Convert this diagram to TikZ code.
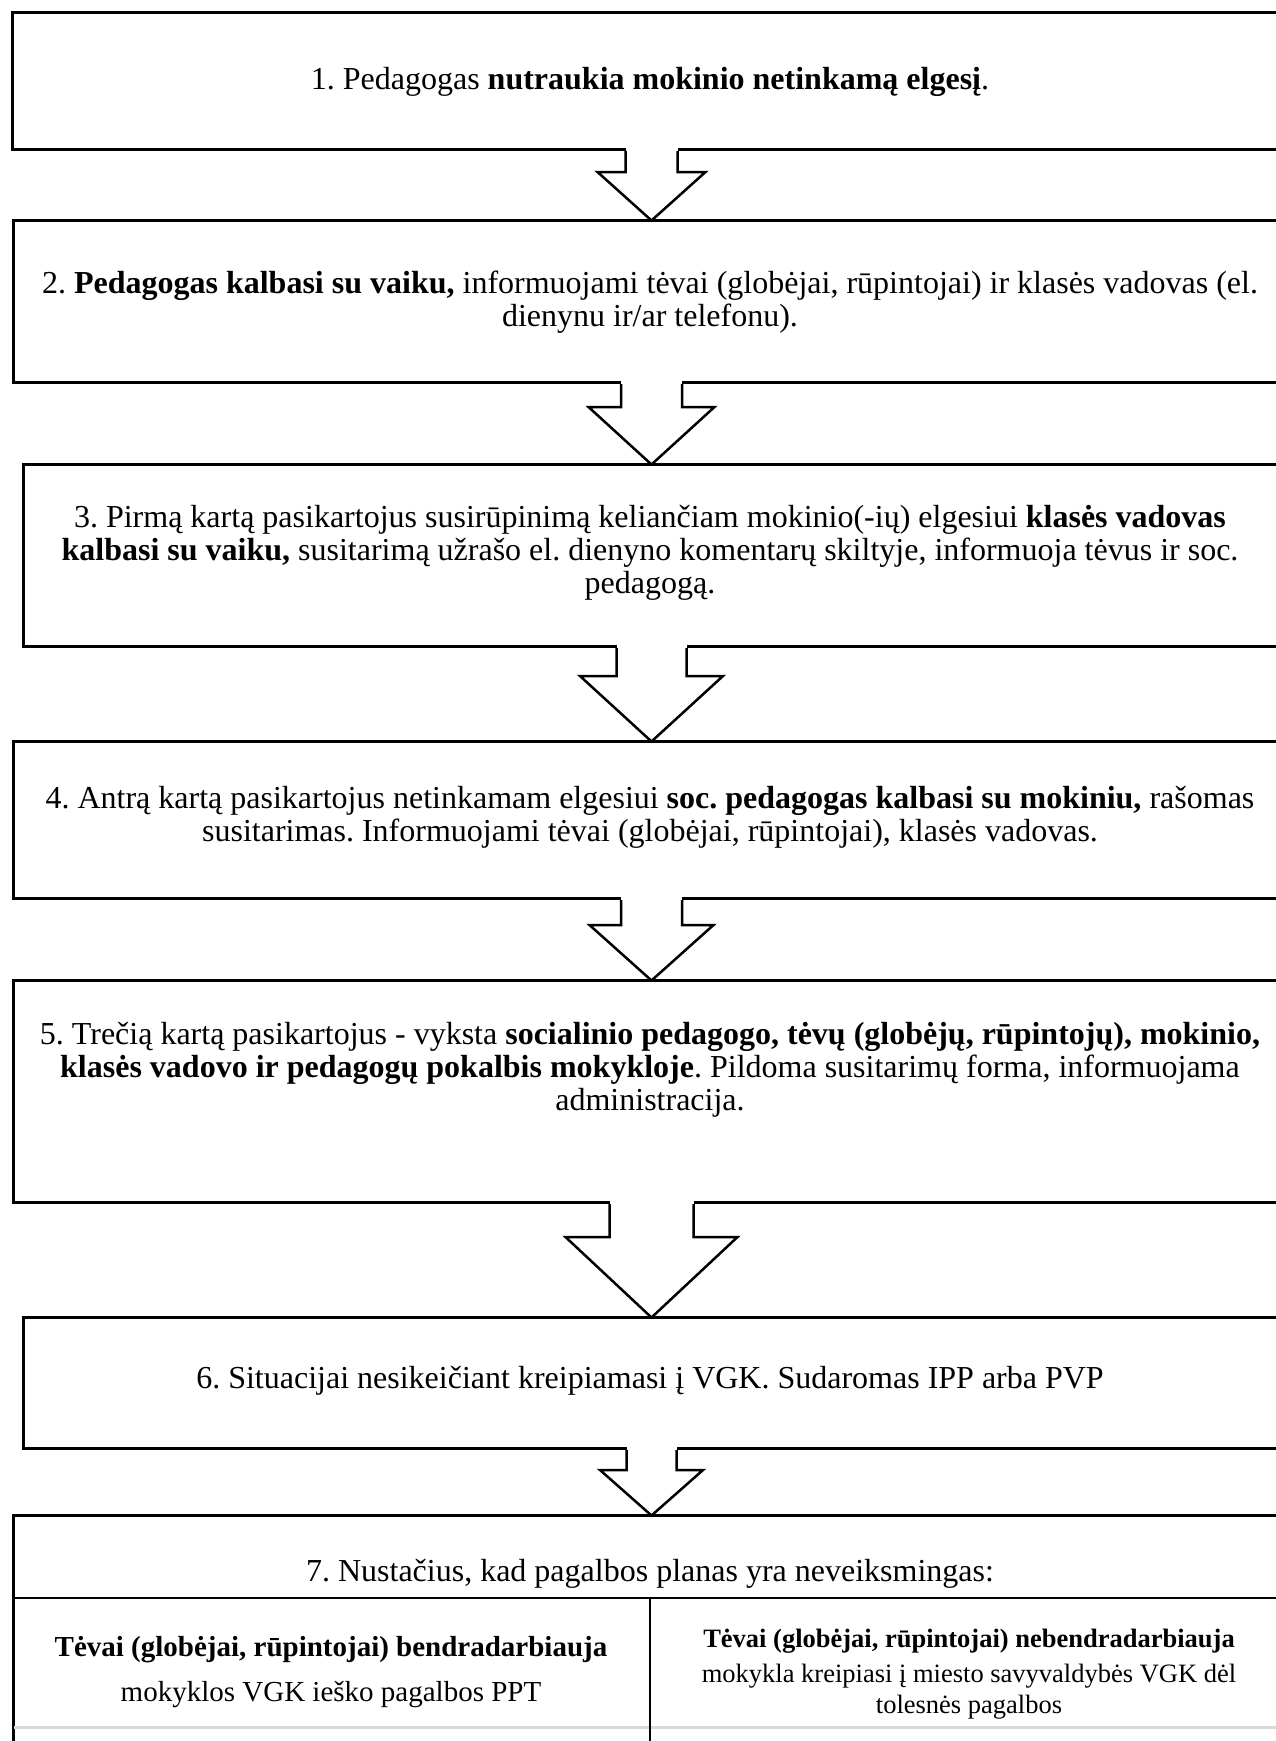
\documentclass[tikz,border=0pt]{standalone}
\usepackage{fontspec}
\setmainfont{Liberation Serif}
\usetikzlibrary{calc}
\frenchspacing
\newcommand\blockarrow[5]{% from, to, half shaft, half head, shaft length
  \fill[white] ($(#1.south)+(-#3,-3)$) rectangle ($(#1.south)+(#3,#5)$);
  \draw[arrowst] ($(#1.south)+(-#3,0)$) -- ($(#1.south)+(-#3,#5)$) -- ($(#1.south)+(-#4,#5)$)
     -- ($(#2.north)+(0,1.5)$) -- ($(#1.south)+(#4,#5)$) -- ($(#1.south)+(#3,#5)$) -- ($(#1.south)+(#3,0)$);
}
\begin{document}
\frenchspacing
\begin{tikzpicture}[x=1pt,y=-1pt,
  boxst/.style={draw=black, line width=3pt, inner sep=0pt, anchor=north west},
  txt/.style={align=center, inner sep=0pt, font=\fontsize{32}{33}\selectfont\frenchspacing},
  celltxt/.style={align=center, inner sep=0pt},
  arrowst/.style={draw=black, line width=2.5pt, line join=miter, miter limit=4},
  divline/.style={draw=black, line width=2pt},
  thinline/.style={draw=black, line width=1.6pt},
  greyline/.style={draw=black!15, line width=3pt},
]
\useasboundingbox (0,0) rectangle (1276,1741);
\fill[white] (0,0) rectangle (1276,1741);
\clip (0,0) rectangle (1276,1741);

% boxes
\node[boxst, minimum width=1278pt, minimum height=137pt] (b1) at (11,11) {};
\node[boxst, minimum width=1276pt, minimum height=162pt] (b2) at (12,219) {};
\node[boxst, minimum width=1256pt, minimum height=182pt] (b3) at (22,463) {};
\node[boxst, minimum width=1276pt, minimum height=157pt] (b4) at (12,740) {};
\node[boxst, minimum width=1276pt, minimum height=222pt] (b5) at (12,979) {};
\node[boxst, minimum width=1256pt, minimum height=131pt] (b6) at (22,1316) {};
\node[boxst, minimum width=1276pt, minimum height=300pt] (b7) at (12,1514) {};

% texts
\node[txt] (t1) at (650,82) {1. Pedagogas \textbf{nutraukia mokinio netinkamą elgesį}.};
\node[txt] (t2) at (650,302) {2. \textbf{Pedagogas kalbasi su vaiku,} informuojami tėvai (globėjai, rūpintojai) ir klasės vadovas (el.\\ dienynu ir/ar telefonu).};
\node[txt] (t3) at (650,553) {3. Pirmą kartą pasikartojus susirūpinimą keliančiam mokinio(-ių) elgesiui \textbf{klasės vadovas}\\ \textbf{kalbasi su vaiku,} susitarimą užrašo el. dienyno komentarų skiltyje, informuoja tėvus ir soc.\\ pedagogą.};
\node[txt] (t4) at (650,817) {4. Antrą kartą pasikartojus netinkamam elgesiui \textbf{soc. pedagogas kalbasi su mokiniu,} rašomas\\ susitarimas. Informuojami tėvai (globėjai, rūpintojai), klasės vadovas.};
\node[txt] (t5) at (650,1070) {5. Trečią kartą pasikartojus - vyksta \textbf{socialinio pedagogo, tėvų (globėjų, rūpintojų), mokinio,}\\ \textbf{klasės vadovo ir pedagogų pokalbis mokykloje}. Pildoma susitarimų forma, informuojama\\ administracija.};
\node[txt] (t6) at (650,1381) {6. Situacijai nesikeičiant kreipiamasi į VGK. Sudaromas IPP arba PVP};
\node[txt] (t7) at (650,1574) {7. Nustačius, kad pagalbos planas yra neveiksmingas:};

% table inside box 7
\coordinate (d1) at (12,1598);
\coordinate (d2) at (1290,1598);
\coordinate (v1) at (650,1598);
\coordinate (v2) at (650,1760);
\coordinate (g1) at (13.5,1727);
\coordinate (g2) at (1290,1727);
\draw[greyline] (g1) -- (g2);
\draw[divline] (d1) -- (d2);
\draw[thinline] (v1) -- (v2);

\node[celltxt, font=\fontsize{29}{33}\selectfont] (c1) at (331,1672)
  {\textbf{Tėvai (globėjai, rūpintojai) bendradarbiauja}\\[12pt] mokyklos VGK ieško pagalbos PPT};
\node[celltxt, font=\fontsize{26.5}{31}\selectfont] (c2) at (969,1674)
  {\textbf{Tėvai (globėjai, rūpintojai) nebendradarbiauja}\\[4pt] mokykla kreipiasi į miesto savyvaldybės VGK dėl\\ tolesnės pagalbos};

% block arrows
\blockarrow{b1}{b2}{26}{54}{21}
\blockarrow{b2}{b3}{30.5}{63}{23}
\blockarrow{b3}{b4}{35}{71.5}{28}
\blockarrow{b4}{b5}{30.5}{62}{25}
\blockarrow{b5}{b6}{42}{86}{33}
\blockarrow{b6}{b7}{25}{51.5}{20}
\end{tikzpicture}
\end{document}
